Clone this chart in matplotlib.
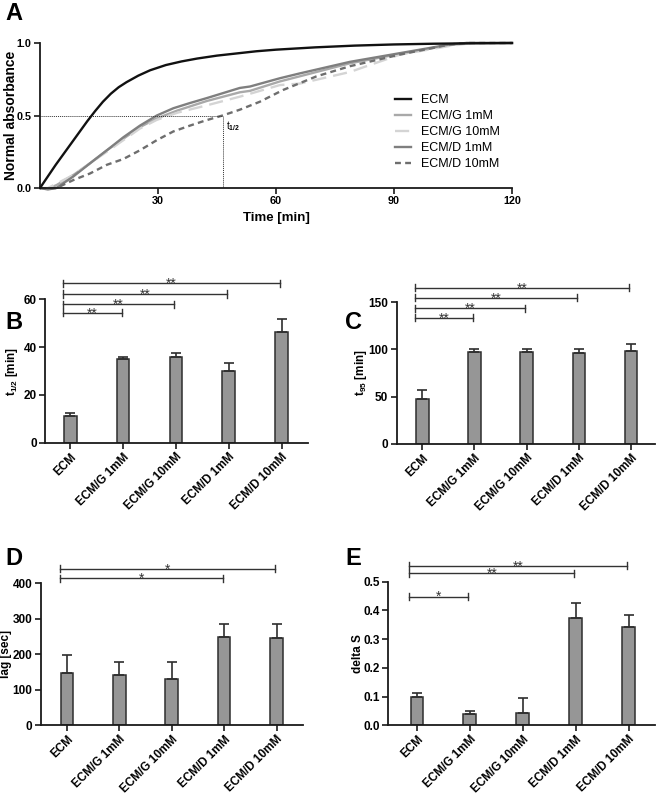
import matplotlib
matplotlib.use("Agg")
import matplotlib.pyplot as plt

plt.rcParams["font.family"] = ["Liberation Sans", "DejaVu Sans"]
plt.rcParams["mathtext.fontset"] = "custom"
plt.rcParams["mathtext.rm"] = "Liberation Sans:bold"
plt.rcParams["mathtext.bf"] = "Liberation Sans:bold"
plt.rcParams["mathtext.default"] = "bf"

# --- panel A: normalised turbidity curves ---
t_ecm = [0, 2, 4, 6, 8, 10, 12, 14, 16, 18, 20, 22, 25, 28, 32, 36, 40, 45, 50, 55, 60,
         70, 80, 90, 100, 110, 120]
v_ecm = [0, 0.08, 0.16, 0.235, 0.31, 0.385, 0.46, 0.53, 0.595, 0.65, 0.695, 0.73, 0.775,
         0.812, 0.848, 0.873, 0.893, 0.913, 0.928, 0.943, 0.954, 0.97, 0.982, 0.99, 0.995,
         0.998, 1.0]

t_g1 = [0, 2, 4.2, 8.5, 12.7, 17, 21.2, 25.4, 29.7, 35, 42.4, 50.8, 53.4, 61, 66, 78.8, 91.5, 104.2, 108.4, 120]
v_g1 = [0, -0.005, 0.02, 0.09, 0.17, 0.26, 0.34, 0.42, 0.48, 0.535, 0.60, 0.66, 0.67, 0.735, 0.77, 0.86, 0.925, 0.985, 1.0, 1.0]

t_g10 = [0, 2, 4.2, 8.5, 12.7, 17, 21.2, 25.4, 29.7, 35, 42.4, 50.8, 53.4, 61, 66, 78.8, 83, 91.5, 104.2, 110, 120]
v_g10 = [0, 0.0, 0.03, 0.09, 0.17, 0.25, 0.33, 0.41, 0.47, 0.52, 0.57, 0.63, 0.65, 0.71, 0.72, 0.80, 0.84, 0.92, 0.98, 1.0, 1.0]

t_d1 = [0, 2, 4.2, 8.5, 12.7, 17, 21.2, 25.4, 29.7, 33.9, 38, 42.4, 50.8, 53.4, 61, 66, 78.8, 91.5, 104.2, 108.4, 120]
v_d1 = [0, -0.01, 0.0, 0.08, 0.17, 0.26, 0.35, 0.43, 0.50, 0.55, 0.585, 0.62, 0.69, 0.70, 0.757, 0.79, 0.87, 0.93, 0.99, 1.0, 1.0]

t_d10 = [0, 2, 4.2, 8.5, 12.7, 17, 21.2, 25.4, 29.7, 33.9, 38.1, 42, 46.4, 50.8, 55.9, 61.8, 70.3, 78.8, 91.5, 104.2, 108.4, 120]
v_d10 = [0, -0.005, 0.0, 0.055, 0.10, 0.16, 0.20, 0.26, 0.33, 0.39, 0.43, 0.465, 0.50, 0.54, 0.595, 0.676, 0.77, 0.84, 0.92, 0.99, 1.0, 1.0]

t_half = 46.4

# --- bar panels ---
groups = ["ECM", "ECM/G 1mM", "ECM/G 10mM", "ECM/D 1mM", "ECM/D 10mM"]

thalf_mean = [11.2, 34.9, 36.0, 30.0, 46.3]
thalf_sd = [1.4, 1.1, 1.6, 3.4, 5.3]
thalf_sig = [(1, 54.4, "**"), (2, 57.9, "**"), (3, 62.2, "**"), (4, 66.7, "**")]

t95_mean = [47.5, 97.3, 97.6, 96.0, 98.8]
t95_sd = [9.1, 3.0, 2.8, 4.4, 6.9]
t95_sig = [(1, 133.7, "**"), (2, 143.9, "**"), (3, 154.9, "**"), (4, 165.5, "**")]

lag_mean = [147, 141, 131, 249, 247]
lag_sd = [52, 36, 47, 36, 39]
lag_sig = [(3, 414, "*"), (4, 441, "*")]

dS_mean = [0.098, 0.040, 0.043, 0.373, 0.344]
dS_sd = [0.013, 0.011, 0.052, 0.052, 0.041]
dS_sig = [(1, 0.448, "*"), (3, 0.529, "**"), (4, 0.555, "**")]

W, H = 658, 795
fig = plt.figure(figsize=(W / 100, H / 100), dpi=100)


def box(x0, x1, ytop, ybot):
    # pixel box -> figure fraction
    return [x0 / W, 1 - ybot / H, (x1 - x0) / W, (ybot - ytop) / H]


def style_axes(ax, lab_size):
    for s in ("top", "right"):
        ax.spines[s].set_visible(False)
    for s in ("left", "bottom"):
        ax.spines[s].set_linewidth(1.3)
        ax.spines[s].set_color("#1a1a1a")
    ax.tick_params(direction="out", length=4, width=1.2, color="#1a1a1a",
                   labelsize=lab_size, pad=2)
    for lab in ax.get_xticklabels() + ax.get_yticklabels():
        lab.set_fontweight("bold")


# ---------------- A ----------------
axA = fig.add_axes(box(40, 512, 43, 188))
axA.plot(t_g1, v_g1, color="#a9a9a9", lw=1.7, label="ECM/G 1mM", clip_on=False)
axA.plot(t_g10, v_g10, color="#d4d4d4", lw=1.7, ls=(0, (6, 3)), label="ECM/G 10mM", clip_on=False)
axA.plot(t_d1, v_d1, color="#7f7f7f", lw=1.7, label="ECM/D 1mM", clip_on=False)
axA.plot(t_d10, v_d10, color="#6e6e6e", lw=1.7, ls=(0, (2.5, 1.8)), label="ECM/D 10mM", clip_on=False)
axA.plot(t_ecm, v_ecm, color="#111111", lw=1.7, label="ECM", zorder=5, clip_on=False)
axA.plot([0, t_half], [0.5, 0.5], color="#333333", lw=0.7, ls=(0, (1, 1)))
axA.plot([t_half, t_half], [0, 0.5], color="#333333", lw=0.7, ls=(0, (1, 1)))
axA.text(t_half + 0.8, 0.475, "t$_{1/2}$", fontsize=7, va="top", ha="left")
axA.set_xlim(0, 120)
axA.set_ylim(0, 1.0)
axA.set_xticks([30, 60, 90, 120])
axA.set_yticks([0, 0.5, 1.0])
axA.set_yticklabels(["0.0", "0.5", "1.0"])
axA.set_xlabel("Time [min]", fontsize=9.5, fontweight="bold", labelpad=4)
axA.set_ylabel("Normal absorbance", fontsize=10, fontweight="bold")
axA.yaxis.set_label_coords(-0.047, 0.5)
style_axes(axA, 7.8)
h, l = axA.get_legend_handles_labels()
order = [4, 0, 1, 2, 3]
axA.legend([h[i] for i in order], [l[i] for i in order], loc="upper left",
           bbox_to_anchor=(0.752, 0.645), frameon=False, fontsize=9,
           handlelength=1.25, handletextpad=0.8, labelspacing=0.32, borderpad=0,
           borderaxespad=0)


# ---------------- bar panels ----------------
def bar_panel(ax, means, sds, sig, ymax, yticks, ylabel, lab_x, fmt=None, xlim=(-0.5, 4.5)):
    x = list(range(len(groups)))
    ax.bar(x, means, width=0.24, color="#969696", edgecolor="#2e2e2e", linewidth=1.1, zorder=2)
    ax.errorbar(x, means, yerr=[[0] * len(sds), sds], fmt="none", ecolor="#2e2e2e",
                elinewidth=1.2, capsize=3.5, capthick=1.2, zorder=3)
    ax.set_xlim(*xlim)
    ax.set_ylim(0, ymax)
    ax.set_yticks(yticks)
    if fmt:
        ax.set_yticklabels([fmt % v for v in yticks])
    ax.set_xticks(x)
    ax.set_xticklabels(groups, rotation=45, ha="right", rotation_mode="anchor", fontsize=8)
    ax.set_ylabel(ylabel, fontsize=8.5, fontweight="bold")
    ax.yaxis.set_label_coords(lab_x, 0.5)
    style_axes(ax, 8.5)
    cap = ymax * 0.025
    for j, y, s in sig:
        x0, x1 = -0.14, j - 0.03
        ax.plot([x0, x1], [y, y], color="#333333", lw=1.0, clip_on=False)
        ax.plot([x0, x0], [y - cap, y + cap], color="#333333", lw=1.0, clip_on=False)
        ax.plot([x1, x1], [y - cap, y + cap], color="#333333", lw=1.0, clip_on=False)
        ax.annotate(s, ((x0 + x1) / 2, y), xytext=(0, -5.5), textcoords="offset points",
                    ha="center", va="bottom", fontsize=10, color="#333333",
                    annotation_clip=False)


axB = fig.add_axes(box(45, 308, 299.3, 442.7))
bar_panel(axB, thalf_mean, thalf_sd, thalf_sig, 60, [0, 20, 40, 60], "t$_{1/2}$ [min]",
          -0.095, xlim=(-0.48, 4.5))

axC = fig.add_axes(box(396.7, 655, 302.3, 443.7))
bar_panel(axC, t95_mean, t95_sd, t95_sig, 150, [0, 50, 100, 150], "t$_{95}$ [min]",
          -0.108, xlim=(-0.49, 4.46))

axD = fig.add_axes(box(40.7, 302.7, 583.3, 725.3))
bar_panel(axD, lag_mean, lag_sd, lag_sig, 400, [0, 100, 200, 300, 400], "lag [sec]", -0.108)

axE = fig.add_axes(box(388.3, 655, 581.7, 725.3))
bar_panel(axE, dS_mean, dS_sd, dS_sig, 0.5, [0, 0.1, 0.2, 0.3, 0.4, 0.5], "delta S",
          -0.092, fmt="%.1f", xlim=(-0.54, 4.5))

# panel letters
for txt, px, py in [("A", 5, 2), ("B", 5, 311), ("C", 345, 311), ("D", 5, 547), ("E", 345, 547)]:
    fig.text(px / W, 1 - py / H, txt, fontsize=17, fontweight="bold", va="top", ha="left")

fig.savefig("out.png", dpi=100)
